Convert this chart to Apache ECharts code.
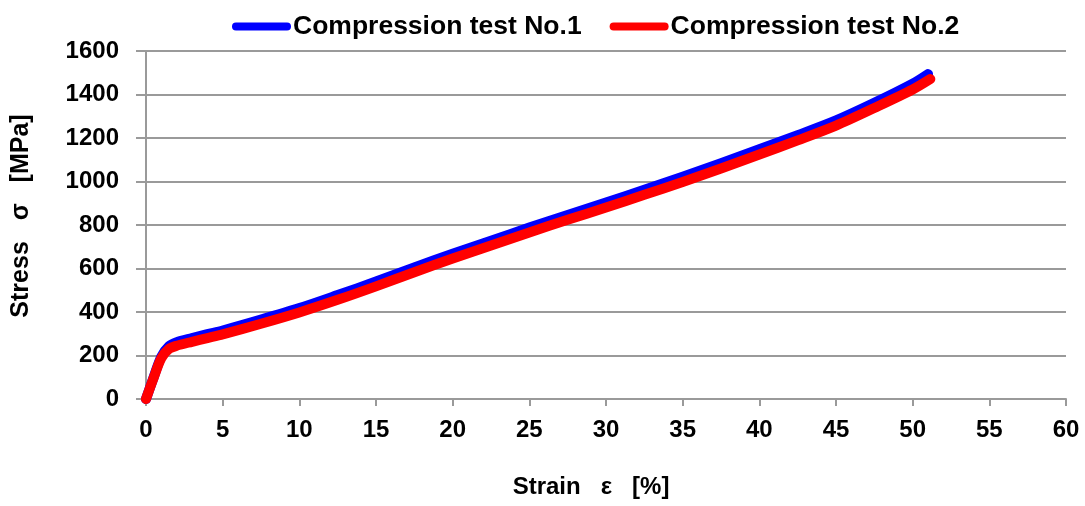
<!DOCTYPE html>
<html>
<head>
<meta charset="utf-8">
<script src="https://cdn.jsdelivr.net/npm/echarts@6/dist/echarts.min.js"></script>
<style>html,body{margin:0;padding:0;background:#fff}#c{width:1085px;height:506px}</style>
</head>
<body>
<div id="c"></div>
<script>
const seriesNames = ['Compression test No.1', 'Compression test No.2'];
const strain1 = [0, 0.5, 1, 1.5, 2, 3, 4, 5, 7.5, 10, 12.5, 15, 17.5, 20, 22.5, 25, 27.5, 30, 32.5, 35, 37.5, 40, 42.5, 45, 47.5, 50, 51];
const stress1 = [0, 100, 195, 243, 261, 280, 298, 315, 365, 418, 478, 540, 605, 668, 728, 788, 846, 903, 962, 1022, 1084, 1148, 1213, 1281, 1362, 1450, 1494];
const strain2 = [0, 0.5, 1, 1.5, 2, 3, 4, 5, 7.5, 10, 12.5, 15, 17.5, 20, 22.5, 25, 27.5, 30, 32.5, 35, 37.5, 40, 42.5, 45, 47.5, 50, 51.15];
const stress2 = [0, 98, 188, 230, 245, 263, 280, 297, 346, 398, 456, 518, 583, 646, 706, 766, 824, 880, 939, 998, 1060, 1124, 1189, 1257, 1338, 1423, 1471];
const xTicks = {min: 0, max: 60, interval: 5};
const yTicks = {min: 0, max: 1600, interval: 200};
const xName = 'Strain   ε   [%]';
const yName = 'Stress   σ   [MPa]';

const pair = (xs, ys) => xs.map((x, i) => [x, ys[i]]);
const font = '"Liberation Sans", Arial, sans-serif';
const chart = echarts.init(document.getElementById('c'));
const pill = 'path://M4,0 L55,0 A4,4 0 0 1 55,8 L4,8 A4,4 0 0 1 4,0 Z';
chart.setOption({
  animation: false,
  legend: {
    left: 227, top: 8, itemGap: 28, itemWidth: 59, itemHeight: 8,
    icon: pill,
    textStyle: {fontFamily: font, fontWeight: 'bold', fontSize: 26.5, color: '#000', padding: [0, 0, 0, -3]},
    data: seriesNames
  },
  grid: {left: 146, right: 19, top: 51, bottom: 107},
  xAxis: {
    type: 'value', min: xTicks.min, max: xTicks.max, interval: xTicks.interval,
    name: xName, nameLocation: 'middle', nameGap: 76,
    nameTextStyle: {fontFamily: font, fontWeight: 'bold', fontSize: 24, color: '#000', padding: [0, 30, 0, 0]},
    axisLine: {lineStyle: {color: '#9a9a9a', width: 2}},
    axisTick: {show: true, length: 7, lineStyle: {color: '#9a9a9a', width: 2}},
    axisLabel: {fontFamily: font, fontWeight: 'bold', fontSize: 24, color: '#000', margin: 19},
    splitLine: {show: false}
  },
  yAxis: {
    type: 'value', min: yTicks.min, max: yTicks.max, interval: yTicks.interval,
    name: yName, nameLocation: 'middle', nameGap: 112, nameRotate: 90,
    nameTextStyle: {fontFamily: font, fontWeight: 'bold', fontSize: 25, color: '#000', padding: [0, 0, 0, 18]},
    axisLine: {show: true, lineStyle: {color: '#9a9a9a', width: 2}},
    axisTick: {show: true, length: 10, lineStyle: {color: '#9a9a9a', width: 2}},
    axisLabel: {fontFamily: font, fontWeight: 'bold', fontSize: 24, color: '#000', margin: 27,
      formatter: v => String(v)},
    splitLine: {show: true, lineStyle: {color: '#9a9a9a', width: 2}}
  },
  series: [
    {name: seriesNames[0], type: 'line', data: pair(strain1, stress1), smooth: 0.3,
     showSymbol: false, symbol: 'none',
     color: '#0000ff', lineStyle: {color: '#0000ff', width: 10, cap: 'round', join: 'round'}},
    {name: seriesNames[1], type: 'line', data: pair(strain2, stress2), smooth: 0.3,
     showSymbol: false, symbol: 'none',
     color: '#ff0000', lineStyle: {color: '#ff0000', width: 10, cap: 'round', join: 'round'}}
  ]
});
</script>
</body>
</html>
